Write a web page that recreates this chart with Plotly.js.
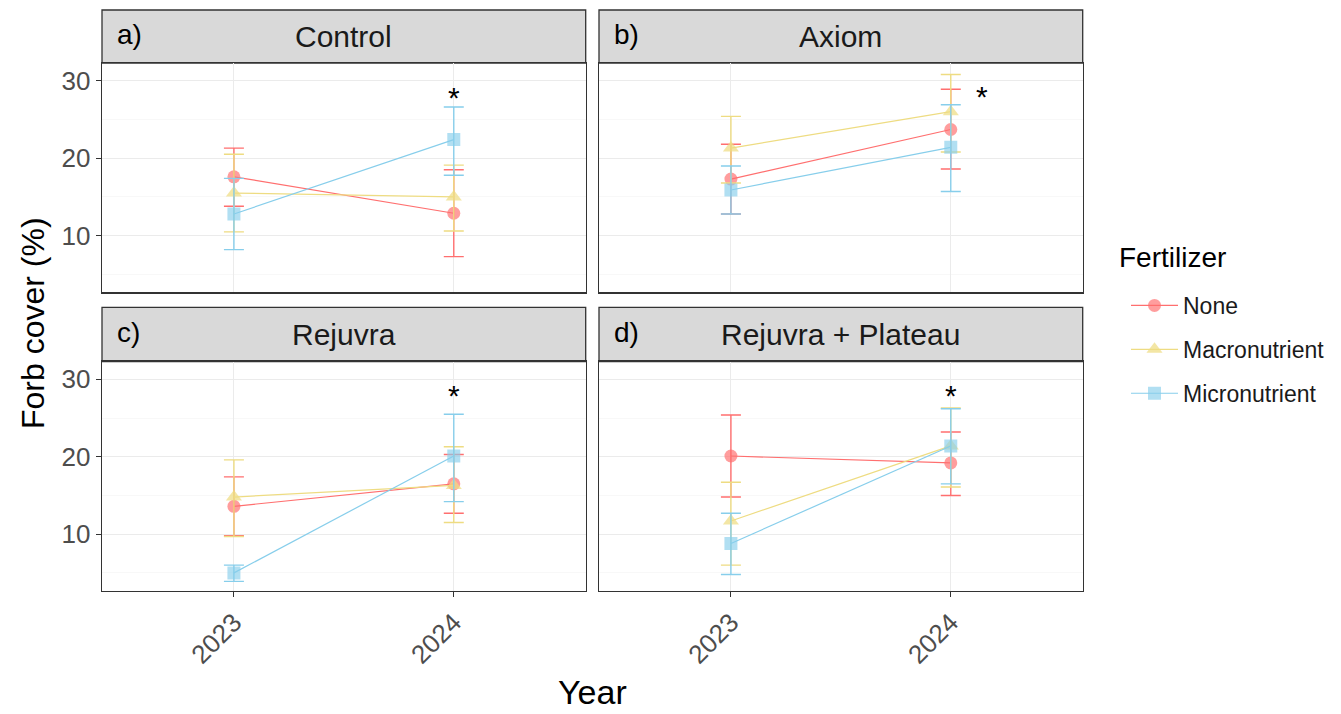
<!DOCTYPE html>
<html>
<head>
<meta charset="utf-8">
<script src="https://cdn.plot.ly/plotly-3.0.1.min.js"></script>
<style>html,body{margin:0;padding:0;background:#fff;}#chart{width:1341px;height:714px;}</style>
</head>
<body>
<div id="chart"></div>
<script>
// ---- data ----
const years = [2023, 2024];
const panels = ["Control", "Axiom", "Rejuvra", "Rejuvra + Plateau"];
const panelTags = ["a)", "b)", "c)", "d)"];
const fertilizers = ["None", "Macronutrient", "Micronutrient"];

// mean forb cover (%) per panel: [2023, 2024]
const noneMean  = [[17.6, 12.9], [17.3, 23.7], [13.6, 16.5], [20.1, 19.2]];
const macroMean = [[15.5, 15.0], [21.3, 26.0], [14.8, 16.3], [11.7, 21.4]];
const microMean = [[12.8, 22.4], [15.9, 21.4], [5.0, 20.1], [8.8, 21.4]];

// error bar lower / upper limits
const noneLow   = [[13.8, 7.3], [12.8, 18.6], [9.8, 12.7], [14.8, 15.0]];
const noneHigh  = [[21.3, 18.5], [21.8, 28.9], [17.4, 20.3], [25.4, 23.2]];
const macroLow  = [[10.5, 10.6], [16.8, 20.8], [9.7, 11.5], [6.0, 16.1]];
const macroHigh = [[20.5, 19.1], [25.4, 30.8], [19.6, 21.3], [16.7, 26.3]];
const microLow  = [[8.2, 17.8], [12.8, 15.7], [3.9, 14.2], [4.8, 16.5]];
const microHigh = [[17.4, 26.6], [19.0, 26.9], [6.0, 25.5], [12.7, 26.2]];

// significance asterisks
const starX = [2024, 2024.14, 2024, 2024];
const starY = [28.5, 28.6, 28.5, 28.5];

// ---- styling ----
const colors = ["#FF6F6F", "#EEDC82", "#87CEEB"];
const markerColors = ["rgba(255,111,111,0.68)", "rgba(238,220,130,0.72)", "rgba(135,206,235,0.65)"];
const symbols = ["circle", "triangle-up", "square"];
const sizes = [13, 14, 13];
const means = [noneMean, macroMean, microMean];
const lows = [noneLow, macroLow, microLow];
const highs = [noneHigh, macroHigh, microHigh];

const W = 1341, H = 714;
const colX = [[102, 585.7], [599, 1082.7]];
const rowY = [[63, 292.3], [361.7, 590.7]];
const stripY = [[10, 63], [307.3, 361.7]];
const px = v => v / W;
const py = v => 1 - v / H;

const traces = [];
panels.forEach((p, i) => {
  const ax = i === 0 ? "" : String(i + 1);
  fertilizers.forEach((f, k) => {
    const m = means[k][i];
    traces.push({
      type: "scatter", mode: "lines+markers",
      x: years, y: m,
      xaxis: "x" + ax, yaxis: "y" + ax,
      name: f, legendgroup: f, showlegend: i === 0,
      line: {color: colors[k], width: 1.2},
      marker: {symbol: symbols[k], size: sizes[k], color: markerColors[k], line: {width: 0}},
      error_y: {
        type: "data", symmetric: false,
        array: highs[k][i].map((h, j) => h - m[j]),
        arrayminus: lows[k][i].map((l, j) => m[j] - l),
        color: colors[k], thickness: 1.4, width: 10
      },
      hoverinfo: "x+y+name"
    });
  });
});

const layout = {
  width: W, height: H,
  margin: {l: 0, r: 0, t: 0, b: 0},
  paper_bgcolor: "#fff", plot_bgcolor: "#fff",
  font: {family: "Liberation Sans, Arial, sans-serif", color: "#000"},
  showlegend: true,
  legend: {
    x: px(1126), y: py(284), xanchor: "left", yanchor: "top",
    font: {size: 23, color: "#1a1a1a"},
    tracegroupgap: 11, itemwidth: 47,
    bgcolor: "rgba(0,0,0,0)"
  },
  shapes: [], annotations: []
};

panels.forEach((p, i) => {
  const c = i % 2, r = Math.floor(i / 2);
  const ax = i === 0 ? "" : String(i + 1);
  layout["xaxis" + ax] = {
    domain: [px(colX[c][0]), px(colX[c][1])],
    range: [2022.4, 2024.6],
    anchor: "y" + ax,
    tickvals: years, ticktext: years.map(String),
    showticklabels: r === 1, ticks: r === 1 ? "outside" : "", ticklen: 5, tickcolor: "#333",
    tickangle: -45, tickfont: {size: 26, color: "#4D4D4D"},
    showgrid: true, gridcolor: "#EBEBEB", gridwidth: 1,
    showline: true, mirror: true, linecolor: "#333", linewidth: 1.3,
    zeroline: false, fixedrange: true
  };
  layout["yaxis" + ax] = {
    domain: [py(rowY[r][1]), py(rowY[r][0])],
    range: [2.7, 32.28],
    anchor: "x" + ax,
    tickvals: [10, 20, 30],
    showticklabels: c === 0, ticks: c === 0 ? "outside" : "", ticklen: 5, tickcolor: "#333",
    tickfont: {size: 26, color: "#4D4D4D"},
    showgrid: true, gridcolor: "#EBEBEB", gridwidth: 1,
    minor: {tickvals: [5, 15, 25], showgrid: true, gridcolor: "#F4F4F4", gridwidth: 0.6, ticks: ""},
    showline: true, mirror: true, linecolor: "#333", linewidth: 1.3,
    zeroline: false, fixedrange: true
  };
  // strip
  layout.shapes.push({
    type: "rect", xref: "paper", yref: "paper",
    x0: px(colX[c][0]), x1: px(colX[c][1]),
    y0: py(stripY[r][1]), y1: py(stripY[r][0]),
    fillcolor: "#D9D9D9", line: {color: "#333", width: 1.3}, layer: "below"
  });
  layout.annotations.push({
    xref: "paper", yref: "paper",
    x: px((colX[c][0] + colX[c][1]) / 2), y: py((stripY[r][0] + stripY[r][1]) / 2),
    text: p, showarrow: false, xanchor: "center", yanchor: "middle",
    font: {size: 30, color: "#1A1A1A"}
  });
  layout.annotations.push({
    xref: "paper", yref: "paper",
    x: px(colX[c][0] + 13), y: py((stripY[r][0] + stripY[r][1]) / 2 - 2),
    text: panelTags[i], showarrow: false, xanchor: "left", yanchor: "middle",
    font: {size: 28, color: "#000"}
  });
  // significance asterisk
  layout.annotations.push({
    xref: "x" + ax, yref: "y" + ax,
    x: starX[i], y: starY[i], yshift: -5,
    text: "*", showarrow: false, xanchor: "center", yanchor: "middle",
    font: {size: 30, color: "#000"}
  });
});

// legend title and axis titles
layout.annotations.push({
  xref: "paper", yref: "paper", x: px(1117), y: py(257),
  text: "Fertilizer", showarrow: false, xanchor: "left", yanchor: "middle",
  font: {size: 28, color: "#000"}
});
layout.annotations.push({
  xref: "paper", yref: "paper", x: px(592), y: py(692),
  text: "Year", showarrow: false, xanchor: "center", yanchor: "middle",
  font: {size: 34, color: "#000"}
});
layout.annotations.push({
  xref: "paper", yref: "paper", x: px(33), y: py(323),
  text: "Forb cover (%)", showarrow: false, textangle: -90, xanchor: "center", yanchor: "middle",
  font: {size: 32, color: "#000"}
});

Plotly.newPlot("chart", traces, layout, {displayModeBar: false, staticPlot: true});
</script>
</body>
</html>
